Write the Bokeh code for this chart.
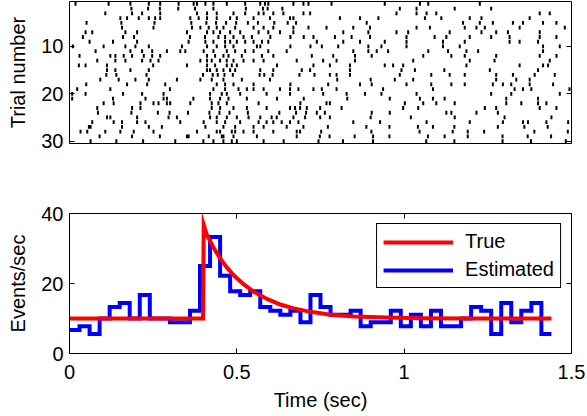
import numpy as np
from bokeh.plotting import figure
from bokeh.layouts import column
from bokeh.models import (Range1d, FixedTicker, LinearAxis, Legend, LegendItem,
                          CustomLabelingPolicy)
from bokeh.embed import file_html
from bokeh.resources import INLINE

FONT = "Liberation Sans"

# ---- spike times (sec) per trial, read from the raster ----
trial_01 = [0.018, 0.117, 0.182, 0.237, 0.271, 0.326, 0.371, 0.381, 0.406, 0.430, 0.470, 0.525, 0.570, 0.584, 0.594, 0.669, 0.699, 0.714, 0.783, 0.942, 1.047, 1.072, 1.226]
trial_02 = [0.185, 0.235, 0.270, 0.325, 0.375, 0.430, 0.527, 0.578, 0.592, 0.636, 0.987, 1.037, 1.151, 1.260]
trial_03 = [0.107, 0.187, 0.217, 0.271, 0.381, 0.411, 0.440, 0.490, 0.525, 0.565, 0.580, 0.609, 0.639, 0.699, 0.719, 0.977, 1.037, 1.067, 1.096, 1.405, 1.435]
trial_04 = [0.152, 0.172, 0.207, 0.237, 0.256, 0.271, 0.361, 0.386, 0.411, 0.440, 0.480, 0.500, 0.550, 0.599, 0.659, 0.669, 0.808, 0.868, 0.923, 1.062, 1.111, 1.196, 1.231, 1.375]
trial_05 = [0.051, 0.155, 0.254, 0.364, 0.409, 0.438, 0.468, 0.498, 0.533, 0.563, 0.612, 0.652, 0.677, 0.888, 1.176, 1.226, 1.265, 1.325, 1.355, 1.415, 1.455]
trial_06 = [0.157, 0.251, 0.366, 0.391, 0.416, 0.440, 0.460, 0.495, 0.550, 0.580, 0.609, 0.669, 0.714, 0.768, 0.848, 0.898, 1.037, 1.077, 1.181, 1.216, 1.241, 1.345, 1.480]
trial_07 = [0.048, 0.068, 0.167, 0.202, 0.351, 0.411, 0.430, 0.450, 0.480, 0.510, 0.565, 0.594, 0.629, 0.669, 0.818, 0.893, 0.977, 1.012, 1.136, 1.231, 1.275, 1.310, 1.405]
trial_08 = [0.040, 0.160, 0.193, 0.360, 0.405, 0.445, 0.465, 0.490, 0.520, 0.545, 0.600, 0.660, 0.700, 0.729, 0.793, 0.843, 0.898, 1.007, 1.091, 1.126, 1.196, 1.260, 1.315, 1.405, 1.455]
trial_09 = [0.060, 0.130, 0.202, 0.356, 0.406, 0.430, 0.465, 0.480, 0.500, 0.525, 0.550, 0.575, 0.594, 0.739, 0.818, 0.868, 0.942, 1.007, 1.116, 1.181, 1.315, 1.345, 1.400]
trial_10 = [0.010, 0.102, 0.167, 0.197, 0.237, 0.336, 0.411, 0.440, 0.465, 0.490, 0.560, 0.570, 0.660, 0.720, 0.754, 0.803, 0.893, 0.932, 1.007, 1.116, 1.166, 1.415, 1.465]
trial_11 = [0.078, 0.182, 0.217, 0.247, 0.291, 0.331, 0.346, 0.401, 0.430, 0.470, 0.495, 0.525, 0.550, 0.594, 0.649, 0.848, 0.893, 0.918, 0.952, 1.072, 1.131, 1.186, 1.221, 1.415]
trial_12 = [0.030, 0.122, 0.137, 0.162, 0.187, 0.222, 0.247, 0.271, 0.411, 0.435, 0.460, 0.475, 0.515, 0.575, 0.609, 0.724, 0.788, 0.853, 0.903, 1.057, 1.141, 1.181, 1.275, 1.405, 1.455]
trial_13 = [0.083, 0.137, 0.167, 0.217, 0.242, 0.266, 0.391, 0.411, 0.425, 0.450, 0.470, 0.490, 0.520, 0.550, 0.580, 0.679, 0.758, 0.798, 0.853, 1.027, 1.196, 1.270, 1.435]
trial_14 = [0.028, 0.048, 0.112, 0.250, 0.351, 0.411, 0.435, 0.470, 0.485, 0.500, 0.620, 0.729, 0.778, 0.838, 0.942, 0.967, 0.997, 1.186, 1.345, 1.415, 1.430]
trial_15 = [0.112, 0.137, 0.182, 0.237, 0.411, 0.420, 0.440, 0.460, 0.480, 0.495, 0.570, 0.609, 0.694, 0.719, 0.838, 0.992, 1.032, 1.120, 1.256, 1.400]
trial_16 = [0.110, 0.140, 0.230, 0.399, 0.428, 0.443, 0.463, 0.488, 0.568, 0.582, 0.607, 0.687, 0.732, 0.778, 0.798, 0.838, 0.987, 1.081, 1.136, 1.181, 1.275, 1.325, 1.390, 1.450]
trial_17 = [0.092, 0.147, 0.197, 0.237, 0.321, 0.391, 0.425, 0.460, 0.515, 0.599, 0.800, 0.900, 0.972, 1.027, 1.275, 1.335, 1.375]
trial_18 = [0.050, 0.172, 0.232, 0.286, 0.440, 0.465, 0.490, 0.550, 0.660, 0.773, 0.868, 0.903, 1.007, 1.081, 1.141, 1.181, 1.265, 1.295, 1.320, 1.375, 1.445]
trial_19 = [0.023, 0.122, 0.300, 0.430, 0.465, 0.505, 0.530, 0.550, 0.580, 0.629, 0.659, 0.684, 0.729, 0.754, 0.798, 0.937, 1.086, 1.330, 1.355, 1.380, 1.494]
trial_20 = [0.008, 0.048, 0.160, 0.217, 0.281, 0.420, 0.455, 0.470, 0.510, 0.589, 0.659, 0.758, 0.828, 0.883, 0.932, 1.037, 1.260, 1.320, 1.465]
trial_21 = [0.008, 0.130, 0.227, 0.281, 0.291, 0.370, 0.420, 0.450, 0.475, 0.530, 0.620, 0.700, 0.830, 0.957, 1.047, 1.086, 1.121, 1.305, 1.400]
trial_22 = [0.102, 0.132, 0.212, 0.251, 0.266, 0.291, 0.301, 0.361, 0.425, 0.445, 0.470, 0.565, 0.690, 0.768, 0.778, 1.002, 1.057, 1.096, 1.151, 1.305, 1.350, 1.400, 1.425]
trial_23 = [0.083, 0.187, 0.212, 0.425, 0.450, 0.490, 0.530, 0.589, 0.659, 0.674, 0.689, 0.709, 0.749, 0.813, 0.997, 1.042, 1.241, 1.275, 1.405, 1.455]
trial_24 = [0.085, 0.185, 0.264, 0.299, 0.354, 0.418, 0.448, 0.478, 0.533, 0.627, 0.677, 0.707, 0.739, 0.763, 0.903, 0.957, 1.126, 1.141, 1.216, 1.280]
trial_25 = [0.112, 0.122, 0.202, 0.296, 0.321, 0.420, 0.440, 0.470, 0.500, 0.535, 0.570, 0.604, 0.619, 0.669, 0.704, 0.749, 0.778, 0.900, 1.020, 1.151, 1.300, 1.440]
trial_26 = [0.068, 0.132, 0.157, 0.202, 0.227, 0.331, 0.401, 0.440, 0.465, 0.510, 0.565, 0.589, 0.609, 0.634, 0.659, 0.684, 0.848, 0.928, 1.067, 1.196, 1.295, 1.355, 1.370, 1.425, 1.490]
trial_27 = [0.058, 0.063, 0.157, 0.237, 0.276, 0.406, 0.460, 0.495, 0.550, 0.580, 0.649, 0.699, 0.772, 0.887, 0.956, 1.041, 1.086, 1.150, 1.280, 1.359, 1.429]
trial_28 = [0.033, 0.053, 0.107, 0.152, 0.192, 0.251, 0.381, 0.440, 0.450, 0.485, 0.495, 0.520, 0.550, 0.609, 0.679, 0.689, 0.752, 0.902, 1.046, 1.145, 1.190, 1.239, 1.389, 1.489]
trial_29 = [0.090, 0.187, 0.270, 0.351, 0.356, 0.416, 0.455, 0.460, 0.490, 0.560, 0.679, 0.748, 0.777, 0.852, 0.907, 0.956, 1.071, 1.121, 1.190, 1.294, 1.369, 1.439]
trial_30 = [0.063, 0.140, 0.220, 0.316, 0.400, 0.430, 0.460, 0.485, 0.500, 0.580, 0.640, 0.744, 0.817, 0.907, 1.066, 1.150, 1.294, 1.379, 1.483]

spike_trains = [trial_01, trial_02, trial_03, trial_04, trial_05, trial_06, trial_07, trial_08,
                trial_09, trial_10, trial_11, trial_12, trial_13, trial_14, trial_15, trial_16,
                trial_17, trial_18, trial_19, trial_20, trial_21, trial_22, trial_23, trial_24,
                trial_25, trial_26, trial_27, trial_28, trial_29, trial_30]

# ---- rates ----
rate_bin_width = 0.03
estimated_rate = [6.7, 7.8, 5.6, 10.0, 13.3, 14.4, 10.0, 16.7, 10.0, 10.0, 8.9, 8.9,
                  12.2, 25.0, 33.3, 22.2, 17.8, 16.7, 17.8, 13.3, 12.2, 11.1, 12.2, 8.9,
                  16.7, 13.3, 11.1, 11.1, 12.2, 7.8, 8.9, 8.9, 12.2, 7.8, 11.1, 7.8,
                  12.2, 7.8, 7.8, 10.0, 13.3, 12.2, 5.6, 14.4, 8.9, 12.2, 14.4, 5.6]
true_time = [0.0, 0.399, 0.401, 0.41, 0.43, 0.45, 0.47, 0.49, 0.52, 0.55, 0.59, 0.63,
             0.67, 0.72, 0.78, 0.85, 0.95, 1.05, 1.20, 1.44]
true_rate = [10.0, 10.0, 36.8, 34.0, 30.3, 27.2, 24.6, 22.4, 19.8, 17.7, 15.6, 14.0,
             12.9, 11.9, 11.1, 10.6, 10.3, 10.1, 10.0, 10.0]

x_ticks = [0, 0.5, 1, 1.5]
x_tick_labels = ["0", "0.5", "1", "1.5"]
trial_ticks = [10, 20, 30]
rate_ticks = [0, 20, 40]


def style_axis(ax, ticks, show_labels=True, labels=None):
    ax.ticker = FixedTicker(ticks=ticks)
    ax.major_tick_in = 5
    ax.major_tick_out = 0
    ax.minor_tick_in = 0
    ax.minor_tick_out = 0
    ax.major_tick_line_color = "black"
    ax.major_tick_line_width = 1
    ax.axis_line_color = None
    ax.major_label_text_font = FONT
    ax.major_label_text_color = "black"
    ax.axis_label_text_font = FONT
    ax.axis_label_text_font_size = "20px"
    ax.axis_label_text_font_style = "normal"
    ax.axis_label_text_color = "black"
    if show_labels:
        ax.major_label_text_font_size = "20px"
        ax.major_label_standoff = 6
        if labels is not None:
            ax.major_label_overrides = {t: s for t, s in zip(ticks, labels)}
    else:
        # tick marks only: no labels are drawn
        ax.major_label_text_font_size = "10px"
        ax.major_label_standoff = 0
        ax.major_label_policy = CustomLabelingPolicy(code="return []")


W = 587
LEFT = 69
RIGHT = 16

# ---- raster ----
sx, sy0, sy1 = [], [], []
for k, train in enumerate(spike_trains, start=1):
    for t in train:
        sx.append(t)
        sy0.append(k - 0.4)
        sy1.append(k + 0.4)

p1 = figure(width=W, height=155, x_range=Range1d(0, 1.5), y_range=Range1d(30.5, 0.5),
            output_backend="svg", toolbar_location=None, x_axis_location=None,
            min_border_left=LEFT, min_border_right=RIGHT, min_border_top=1, min_border_bottom=12)
p1.segment(x0=sx, y0=sy0, x1=sx, y1=sy1, line_color="black", line_width=2)
p1.grid.visible = False
p1.outline_line_color = "black"
p1.outline_line_alpha = 1
p1.outline_line_width = 1
style_axis(p1.yaxis[0], trial_ticks)
p1.yaxis[0].axis_label = "Trial number"
p1.yaxis[0].axis_label_standoff = 9
ax_r1 = LinearAxis()
style_axis(ax_r1, trial_ticks, show_labels=False)
p1.add_layout(ax_r1, "right")

# ---- rates ----
edges = np.arange(len(estimated_rate) + 1) * rate_bin_width
est_y = list(estimated_rate) + [estimated_rate[-1]]

p2 = figure(width=W, height=261, x_range=Range1d(0, 1.5), y_range=Range1d(0, 40),
            output_backend="svg", toolbar_location=None,
            min_border_left=LEFT, min_border_right=RIGHT, min_border_top=58, min_border_bottom=63)
r_est = p2.step(x=edges, y=est_y, mode="after", line_color="#0000ff", line_width=4, line_join="miter")
r_true = p2.line(x=true_time, y=true_rate, line_color="#ff0000", line_width=4, line_join="miter")
p2.grid.visible = False
p2.outline_line_color = "black"
p2.outline_line_alpha = 1
p2.outline_line_width = 1
style_axis(p2.xaxis[0], x_ticks, labels=x_tick_labels)
p2.xaxis[0].major_label_standoff = 11
p2.xaxis[0].axis_label = "Time (sec)"
p2.xaxis[0].axis_label_standoff = 7
style_axis(p2.yaxis[0], rate_ticks)
p2.yaxis[0].axis_label = "Events/sec"
p2.yaxis[0].axis_label_standoff = 9
ax_r2 = LinearAxis()
style_axis(ax_r2, rate_ticks, show_labels=False)
p2.add_layout(ax_r2, "right")
ax_t2 = LinearAxis()
style_axis(ax_t2, x_ticks, show_labels=False)
p2.add_layout(ax_t2, "above")

legend = Legend(items=[LegendItem(label="True", renderers=[r_true]),
                       LegendItem(label="Estimated", renderers=[r_est])],
                location="top_right")
legend.label_text_font = FONT
legend.label_text_font_size = "20px"
legend.label_text_color = "black"
legend.glyph_width = 70
legend.glyph_height = 20
legend.label_height = 20
legend.label_standoff = 12
legend.padding = 6
legend.spacing = 5
legend.margin = 10
legend.border_line_color = "black"
legend.border_line_width = 1
legend.border_line_alpha = 1
legend.background_fill_alpha = 1
p2.add_layout(legend)

layout = column(p1, p2, spacing=0)
open("out.html", "w").write(file_html(layout, INLINE))
